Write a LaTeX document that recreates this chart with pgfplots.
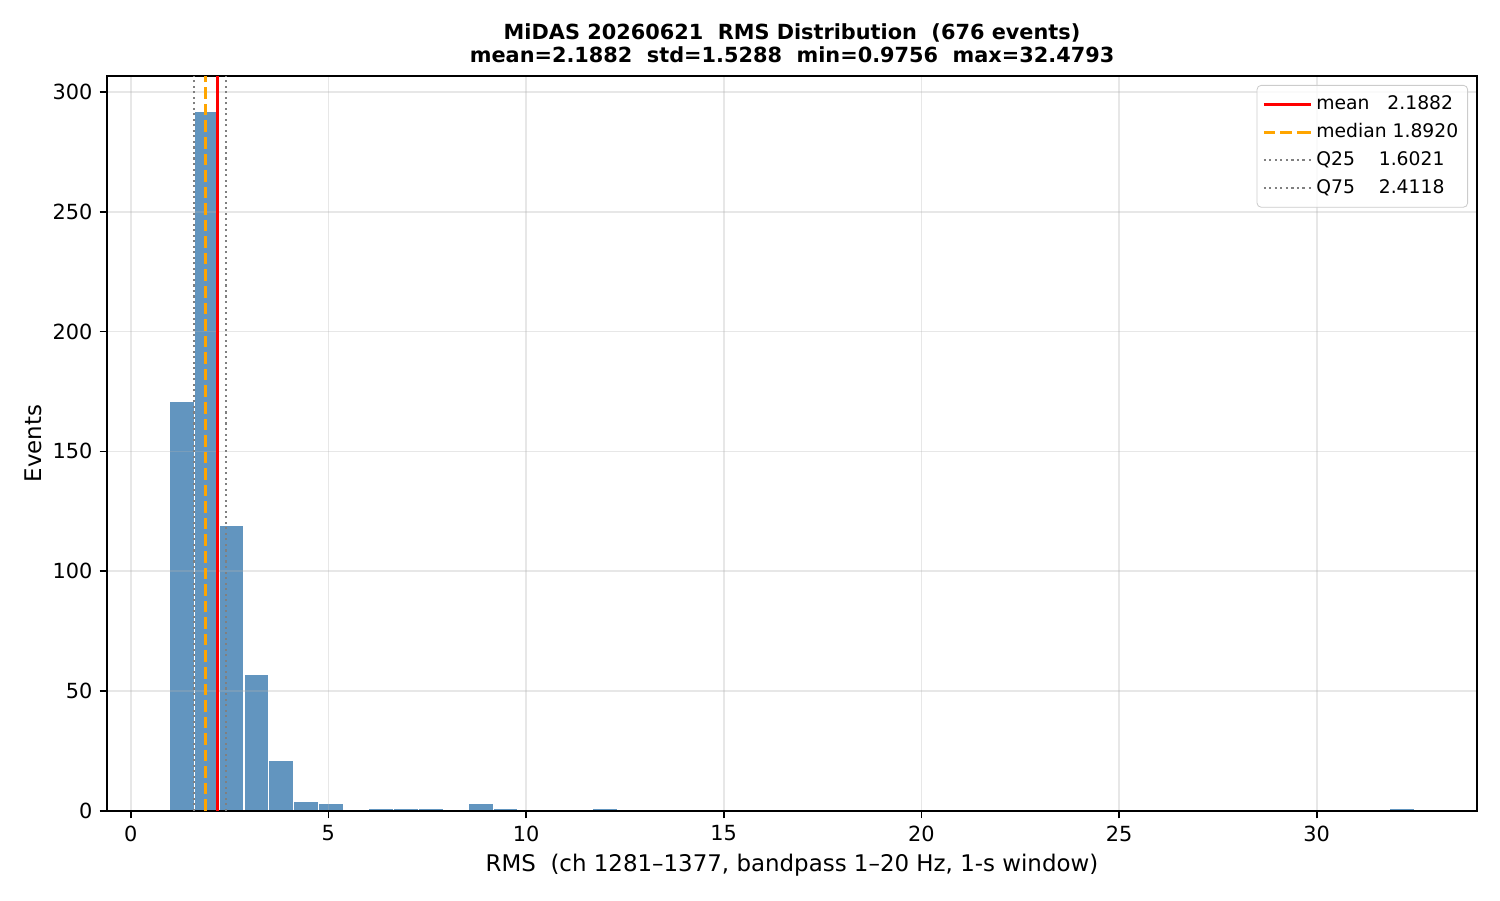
\documentclass[border=0pt]{standalone}
\usepackage{fontspec}
\setmainfont{DejaVu Sans}
\usepackage{pgfplots}
\pgfplotsset{compat=1.18}
\definecolor{barblue}{RGB}{98,149,191}
\definecolor{gridc}{RGB}{176,176,176}
\definecolor{mplorange}{RGB}{255,165,0}
\definecolor{mplgray}{RGB}{128,128,128}
\definecolor{legedge}{RGB}{204,204,204}
\pgfplotsset{
  shortline/.style={legend image code/.code={\draw[##1] (0pt,0pt) -- (19pt,0pt); \path (19pt,0pt) -- (22.5pt,0pt);}},
  frame/.style={
    at={(51.36pt,42.72pt)}, anchor=south west,
    scale only axis, width=657.6pt, height=352.8pt,
    xmin=-0.5996, xmax=34.0545, ymin=0, ymax=306.6},
}
\begin{document}
\begin{tikzpicture}
\useasboundingbox (0pt,0pt) rectangle (720pt,432pt);
\begin{axis}[
  frame, axis on top,
  xtick={0,5,...,30}, ytick={0,50,...,300},
  tick pos=left, tick align=outside,
  major tick length=3.5pt,
  tick style={black, line width=0.8pt},
  axis line style={black, line width=0.8pt},
  grid=major, grid style={gridc, opacity=0.3, line width=0.8pt},
  ticklabel style={font=\fontsize{10}{12}\selectfont},
  /pgf/number format/assume math mode=true,
]
\addplot[ybar interval, fill=barblue, draw=white, line width=0.5pt] coordinates {
(0.9756,171) (1.6057,292) (2.2357,119) (2.8658,57) (3.4959,21)
(4.1260,4) (4.7560,3) (5.3861,0) (6.0162,1) (6.6463,1)
(7.2763,1) (7.9064,0) (8.5365,3) (9.1666,1) (9.7966,0)
(10.4267,0) (11.0568,0) (11.6869,1) (12.3169,0) (12.9470,0)
(13.5771,0) (14.2072,0) (14.8372,0) (15.4673,0) (16.0974,0)
(16.7275,0) (17.3575,0) (17.9876,0) (18.6177,0) (19.2477,0)
(19.8778,0) (20.5079,0) (21.1380,0) (21.7680,0) (22.3981,0)
(23.0282,0) (23.6583,0) (24.2883,0) (24.9184,0) (25.5485,0)
(26.1786,0) (26.8086,0) (27.4387,0) (28.0688,0) (28.6989,0)
(29.3289,0) (29.9590,0) (30.5891,0) (31.2192,0) (31.8492,1)
(32.4793,0)
};
\end{axis}
\begin{axis}[
  frame, hide axis,
  legend style={at={(axis description cs:1,1)}, anchor=north east, xshift=-4.3pt, yshift=-4.3pt,
    draw=legedge, rounded corners=2pt, fill=white, fill opacity=0.8, text opacity=1,
    font=\fontsize{9}{11}\selectfont, cells={anchor=west}, row sep=1.2pt,
    inner xsep=2.5pt, inner ysep=3pt},
  legend cell align=left,
  shortline,
]
\addplot[red, line width=1.5pt]
  coordinates {(2.1882,0) (2.1882,306.6)};
\addlegendentry{mean\ \ \ 2.1882}
\addplot[mplorange, line width=1.5pt, dash pattern=on 5.55pt off 2.4pt]
  coordinates {(1.8920,0) (1.8920,306.6)};
\addlegendentry{median 1.8920}
\addplot[mplgray, line width=1pt, dash pattern=on 1pt off 1.65pt]
  coordinates {(1.6021,0) (1.6021,306.6)};
\addlegendentry{Q25\ \ \ \ 1.6021}
\addplot[mplgray, line width=1pt, dash pattern=on 1pt off 1.65pt]
  coordinates {(2.4118,0) (2.4118,306.6)};
\addlegendentry{Q75\ \ \ \ 2.4118}
\end{axis}
\node[anchor=base, inner sep=0pt, font=\bfseries\fontsize{10}{12}\selectfont] at (380.16pt,412.8pt) {MiDAS 20260621\ \ RMS Distribution\ \ (676 events)};
\node[anchor=base, inner sep=0pt, font=\bfseries\fontsize{10}{12}\selectfont] at (380.16pt,401.76pt) {mean=2.1882\ \ std=1.5288\ \ min=0.9756\ \ max=32.4793};
\node[anchor=base, inner sep=0pt, font=\fontsize{11}{13}\selectfont] at (380.16pt,13.58pt) {RMS\ \ (ch 1281–1377, bandpass 1–20 Hz, 1-s window)};
\node[anchor=base, inner sep=0pt, rotate=90, font=\fontsize{11}{13}\selectfont] at (20.0pt,219.1pt) {Events};
\end{tikzpicture}
\end{document}
